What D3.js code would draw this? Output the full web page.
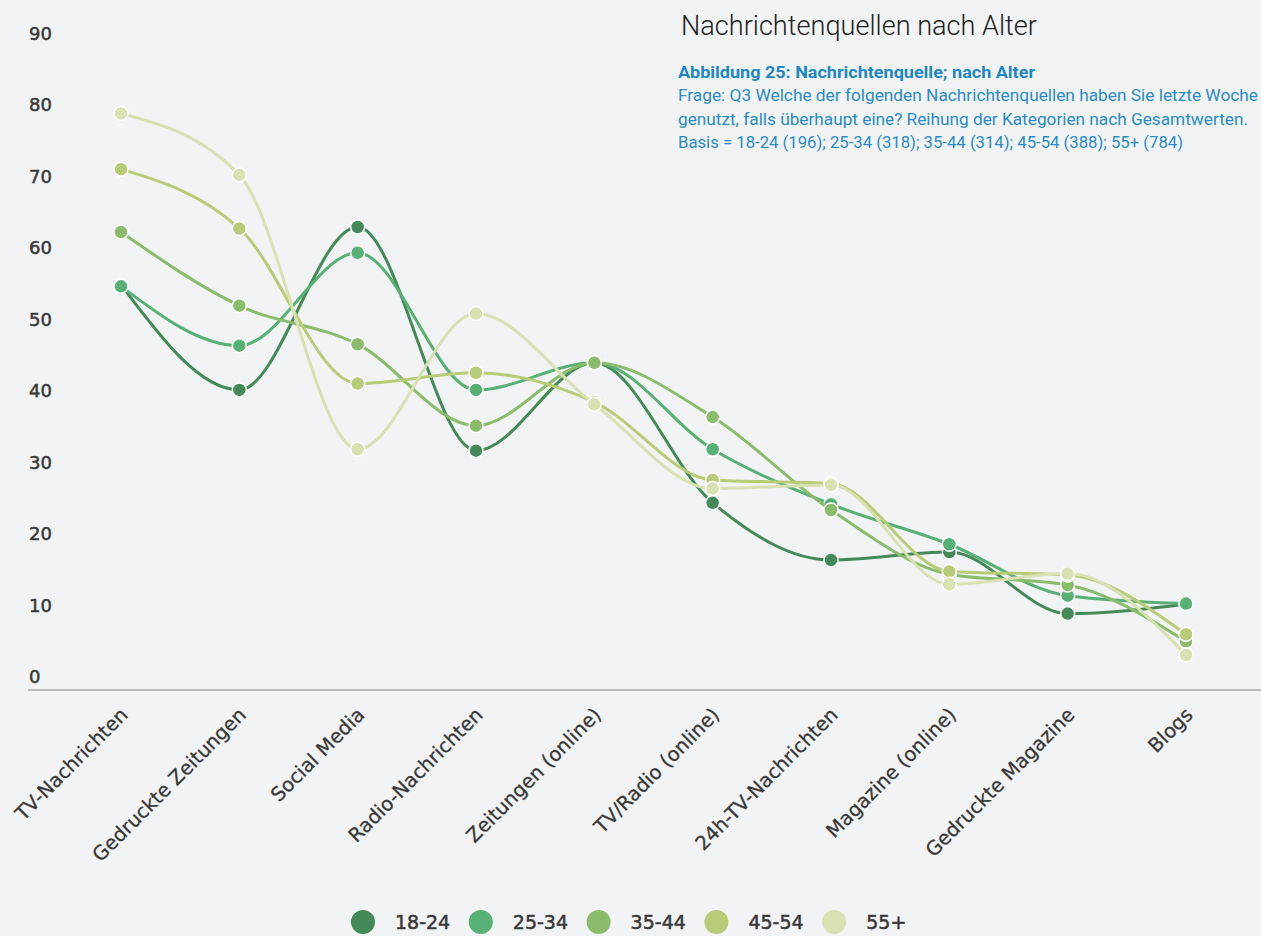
<!DOCTYPE html>
<html>
<head>
<meta charset="utf-8">
<script src="https://cdn.jsdelivr.net/npm/d3@7"></script>
<style>
  body { margin: 0; background: #f1f3f5; }
  svg { display: block; font-family: Roboto, "Open Sans", sans-serif; }
</style>
</head>
<body>
<script>
const categories = ["TV-Nachrichten", "Gedruckte Zeitungen", "Social Media", "Radio-Nachrichten",
  "Zeitungen (online)", "TV/Radio (online)", "24h-TV-Nachrichten", "Magazine (online)",
  "Gedruckte Magazine", "Blogs"];
const ageGroups = ["18-24", "25-34", "35-44", "45-54", "55+"];
const colors = ["#448a58", "#57b074", "#8bbc6c", "#b8cc77", "#d8e1b1"];

// values (percent)
const v1824 = [56.7, 42.0, 64.8, 33.5, 45.8, 26.2, 18.2, 19.3, 10.7, 12.0];
const v2534 = [56.5, 48.2, 61.2, 42.0, 45.8, 33.7, 26.0, 20.4, 13.2, 12.1];
const v3544 = [64.1, 53.8, 48.4, 37.0, 45.8, 38.2, 25.2, 16.2, 14.7, 6.8];
const v4554 = [72.9, 64.6, 42.9, 44.4, 40.3, 29.4, 28.9, 16.6, 16.1, 7.8];
const v55plus = [80.7, 72.1, 33.7, 52.7, 40.0, 28.2, 28.7, 14.8, 16.3, 4.9];
const yTicks = [0, 10, 20, 30, 40, 50, 60, 70, 80, 90];

const title = "Nachrichtenquellen nach Alter";
const subTitle = "Abbildung 25: Nachrichtenquelle; nach Alter";
const noteLines = [
  "Frage: Q3 Welche der folgenden Nachrichtenquellen haben Sie letzte Woche",
  "genutzt, falls überhaupt eine? Reihung der Kategorien nach Gesamtwerten.",
  "Basis = 18-24 (196); 25-34 (318); 35-44 (314); 45-54 (388); 55+ (784)"
];

const series = [v1824, v2534, v3544, v4554, v55plus];

const width = 1261;
const height = 936;
const axisFont = "'DejaVu Sans', Verdana, sans-serif";
const labelColor = "#383838";

const svg = d3.select("body")
  .append("svg")
  .attr("width", width)
  .attr("height", height);

svg.append("rect")
  .attr("width", width)
  .attr("height", height)
  .attr("fill", "#f1f3f5");

const x = d3.scalePoint()
  .domain(categories)
  .range([121, 1186]);

const y = d3.scaleLinear()
  .domain([0, 90])
  .range([690, 47]);

// y labels sit above their value
svg.selectAll(".ylabel")
  .data(yTicks)
  .enter()
  .append("text")
  .attr("class", "ylabel")
  .attr("x", 29)
  .attr("y", d => y(d) - 7)
  .attr("font-family", axisFont)
  .attr("font-size", 18)
  .attr("fill", labelColor)
  .attr("stroke", labelColor)
  .attr("stroke-width", 0.5)
  .text(d => d);

// x axis line
svg.append("line")
  .attr("x1", 28)
  .attr("x2", width)
  .attr("y1", y(0))
  .attr("y2", y(0))
  .attr("stroke", "#b8b9bb")
  .attr("stroke-width", 2);

// rotated category labels
svg.selectAll(".xlabel")
  .data(categories)
  .enter()
  .append("text")
  .attr("class", "xlabel")
  .attr("text-anchor", "end")
  .attr("transform", d => `translate(${x(d) + 8},716) rotate(-45)`)
  .attr("font-family", axisFont)
  .attr("font-size", 19.5)
  .attr("fill", labelColor)
  .attr("stroke", labelColor)
  .attr("stroke-width", 0.3)
  .text(d => d);

const line = d3.line()
  .x((d, i) => x(categories[i]))
  .y(d => y(d))
  .curve(d3.curveMonotoneX);

series.forEach((vals, k) => {
  const g = svg.append("g").attr("class", "series");
  g.append("path")
    .datum(vals)
    .attr("d", line)
    .attr("fill", "none")
    .attr("stroke", colors[k])
    .attr("stroke-width", 3);
  g.selectAll("circle")
    .data(vals)
    .enter()
    .append("circle")
    .attr("cx", (d, i) => x(categories[i]))
    .attr("cy", d => y(d))
    .attr("r", 7)
    .attr("fill", colors[k])
    .attr("stroke", "#ffffff")
    .attr("stroke-width", 1.5);
});

// title block
svg.append("text")
  .attr("x", 681)
  .attr("y", 35)
  .attr("font-size", 27)
  .attr("font-weight", 300)
  .attr("fill", "#222")
  .attr("textLength", 356)
  .attr("lengthAdjust", "spacingAndGlyphs")
  .text(title);

svg.append("text")
  .attr("x", 678)
  .attr("y", 78)
  .attr("font-size", 16)
  .attr("font-weight", 700)
  .attr("fill", "#1f87c2")
  .attr("textLength", 357)
  .attr("lengthAdjust", "spacingAndGlyphs")
  .text(subTitle);

const noteWidths = [580, 570, 505];
svg.selectAll(".note")
  .data(noteLines)
  .enter()
  .append("text")
  .attr("class", "note")
  .attr("x", 678)
  .attr("y", (d, i) => 101 + i * 23.5)
  .attr("font-size", 16)
  .attr("fill", "#2a8cc6")
  .attr("textLength", (d, i) => noteWidths[i])
  .attr("lengthAdjust", "spacingAndGlyphs")
  .text(d => d);

// legend
const legend = svg.selectAll(".legend")
  .data(ageGroups)
  .enter()
  .append("g")
  .attr("class", "legend")
  .attr("transform", (d, i) => `translate(${363 + i * 117.8},922)`);

legend.append("circle")
  .attr("r", 12)
  .attr("fill", (d, i) => colors[i]);

legend.append("text")
  .attr("x", 32)
  .attr("y", 7)
  .attr("font-family", axisFont)
  .attr("font-size", 19)
  .attr("fill", labelColor)
  .attr("stroke", labelColor)
  .attr("stroke-width", 0.5)
  .text(d => d);
</script>
</body>
</html>
